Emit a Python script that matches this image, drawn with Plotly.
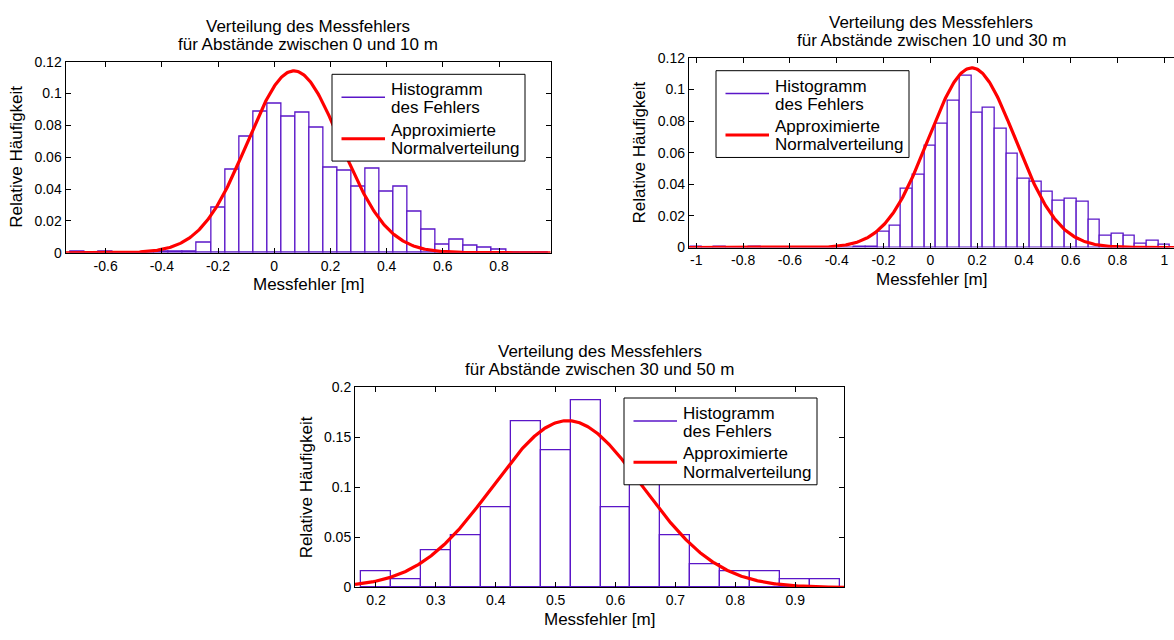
import numpy as np
import plotly.graph_objects as go

# ---------------------------------------------------------------------------
# Histogram data: bin centres [m] and relative frequencies per distance range
# ---------------------------------------------------------------------------
centers_0_10 = [-0.7, -0.65, -0.6, -0.55, -0.5, -0.45, -0.4, -0.35, -0.3, -0.25,
                -0.2, -0.15, -0.1, -0.05, 0.0, 0.05, 0.1, 0.15, 0.2, 0.25,
                0.3, 0.35, 0.4, 0.45, 0.5, 0.55, 0.6, 0.65, 0.7, 0.75,
                0.8, 0.85, 0.9, 0.95]
freq_0_10 = [0.0006, 0.0, 0.0006, 0.0, 0.0, 0.0, 0.0004, 0.0006, 0.0006, 0.0065,
             0.0283, 0.0519, 0.0730, 0.0883, 0.0939, 0.0852, 0.0882, 0.0786, 0.0535, 0.0518,
             0.0415, 0.0527, 0.0381, 0.0414, 0.0259, 0.0148, 0.0050, 0.0082, 0.0043, 0.0033,
             0.0018, 0.0, 0.0, 0.0]

centers_10_30 = [-1.0, -0.95, -0.9, -0.85, -0.8, -0.75, -0.7, -0.65, -0.6, -0.55,
                 -0.5, -0.45, -0.4, -0.35, -0.3, -0.25, -0.2, -0.15, -0.1, -0.05,
                 0.0, 0.05, 0.1, 0.15, 0.2, 0.25, 0.3, 0.35, 0.4, 0.45,
                 0.5, 0.55, 0.6, 0.65, 0.7, 0.75, 0.8, 0.85, 0.9, 0.95, 1.0]
freq_10_30 = [0.0008, 0.0, 0.0006, 0.0, 0.0, 0.0006, 0.0, 0.0, 0.0, 0.0,
              0.0, 0.0, 0.0, 0.0, 0.0004, 0.0006, 0.0098, 0.0135, 0.0370, 0.0458,
              0.0643, 0.0783, 0.0927, 0.1086, 0.0853, 0.0883, 0.0753, 0.0595, 0.0437, 0.0415,
              0.0350, 0.0293, 0.0307, 0.0287, 0.0177, 0.0077, 0.0086, 0.0077, 0.0022, 0.0043,
              0.0016]

centers_30_50 = [0.2, 0.25, 0.3, 0.35, 0.4, 0.45, 0.5, 0.55,
                 0.6, 0.65, 0.7, 0.75, 0.8, 0.85, 0.9, 0.95]
freq_30_50 = [0.0157, 0.0083, 0.0372, 0.0517, 0.0799, 0.1663, 0.1374, 0.1875,
              0.0799, 0.1170, 0.0517, 0.0231, 0.0157, 0.0157, 0.0083, 0.0083]

BIN_WIDTH = 0.05

# Fitted normal approximation (mean, standard deviation, peak height)
normal_0_10 = dict(mu=0.070, sigma=0.166, peak=0.1142)
normal_10_30 = dict(mu=0.177, sigma=0.185, peak=0.1136)
normal_30_50 = dict(mu=0.520, sigma=0.125, peak=0.1666)

# Axis ranges and tick labels
xrange_0_10 = [-0.743, 0.984]
xrange_10_30 = [-1.032, 1.041]
xrange_30_50 = [0.165, 0.982]

xticks_0_10 = [-0.6, -0.4, -0.2, 0.0, 0.2, 0.4, 0.6, 0.8]
xlabels_0_10 = ["-0.6", "-0.4", "-0.2", "0", "0.2", "0.4", "0.6", "0.8"]
xticks_10_30 = [-1.0, -0.8, -0.6, -0.4, -0.2, 0.0, 0.2, 0.4, 0.6, 0.8, 1.0]
xlabels_10_30 = ["-1", "-0.8", "-0.6", "-0.4", "-0.2", "0", "0.2", "0.4", "0.6", "0.8", "1"]
xticks_30_50 = [0.2, 0.3, 0.4, 0.5, 0.6, 0.7, 0.8, 0.9]
xlabels_30_50 = ["0.2", "0.3", "0.4", "0.5", "0.6", "0.7", "0.8", "0.9"]

yticks_small = [0.0, 0.02, 0.04, 0.06, 0.08, 0.10, 0.12]
ylabels_small = ["0", "0.02", "0.04", "0.06", "0.08", "0.1", "0.12"]
yticks_large = [0.0, 0.05, 0.10, 0.15, 0.20]
ylabels_large = ["0", "0.05", "0.1", "0.15", "0.2"]

titles = [
    ("Verteilung des Messfehlers", "für Abstände zwischen 0 und 10 m"),
    ("Verteilung des Messfehlers", "für Abstände zwischen 10 und 30 m"),
    ("Verteilung des Messfehlers", "für Abstände zwischen 30 und 50 m"),
]
XLABEL = "Messfehler [m]"
YLABEL = "Relative Häufigkeit"
LEGEND_HIST = ("Histogramm", "des Fehlers")
LEGEND_NORM = ("Approximierte", "Normalverteilung")

# ---------------------------------------------------------------------------
# Styling / layout helpers
# ---------------------------------------------------------------------------
W, H = 1174, 640
FONT = "Liberation Sans, Arial, Helvetica, sans-serif"
PURPLE = "rgb(90, 22, 200)"
RED = "rgb(255, 0, 0)"


def px(x):
    return x / W


def py(y):
    return 1 - y / H


# plot areas in pixels: (left, top, right, bottom)
boxes = [
    (65.5, 55.0, 550.7, 251.0),
    (688.8, 51.0, 1174.0, 245.7),
    (355.0, 389.0, 844.3, 594.3),
]

panels = [
    (centers_0_10, freq_0_10, normal_0_10, xrange_0_10, xticks_0_10, xlabels_0_10,
     [0, 0.12], yticks_small, ylabels_small),
    (centers_10_30, freq_10_30, normal_10_30, xrange_10_30, xticks_10_30, xlabels_10_30,
     [0, 0.12], yticks_small, ylabels_small),
    (centers_30_50, freq_30_50, normal_30_50, xrange_30_50, xticks_30_50, xlabels_30_50,
     [0, 0.2], yticks_large, ylabels_large),
]

fig = go.Figure()
layout_axes = {}
shapes = []
annotations = []


def text(x, y, s, size=17, xanchor="center", angle=0):
    annotations.append(dict(
        x=px(x), y=py(y), xref="paper", yref="paper", text=s, showarrow=False,
        xanchor=xanchor, yanchor="middle", textangle=angle, borderpad=0,
        font=dict(family=FONT, size=size, color="black")))


for i, (cx, fy, nd, xr, xt, xl, yr, yt, yl) in enumerate(panels):
    n = "" if i == 0 else str(i + 1)
    xa, ya = "x" + n, "y" + n
    left, top, right, bottom = boxes[i]

    fig.add_trace(go.Bar(
        x=cx, y=fy, width=BIN_WIDTH, xaxis=xa, yaxis=ya, showlegend=False,
        marker=dict(color="white", line=dict(color=PURPLE, width=1.3)),
        hoverinfo="x+y"))

    xs = np.linspace(xr[0], xr[1], 500)
    ys = nd["peak"] * np.exp(-0.5 * ((xs - nd["mu"]) / nd["sigma"]) ** 2)
    fig.add_trace(go.Scatter(
        x=xs, y=ys, mode="lines", xaxis=xa, yaxis=ya, showlegend=False,
        line=dict(color=RED, width=3.2)))

    common = dict(showline=True, linecolor="black", linewidth=1, ticks="inside",
                  ticklen=5, tickwidth=1, tickcolor="black", showgrid=False,
                  zeroline=False, tickfont=dict(family=FONT, size=14, color="black"))
    layout_axes["xaxis" + n] = dict(
        common, domain=[px(left), px(right)], range=xr, anchor=ya,
        tickmode="array", tickvals=xt, ticktext=xl, mirror="ticks")
    layout_axes["yaxis" + n] = dict(
        common, domain=[py(bottom), py(top)], range=yr, anchor=xa,
        tickmode="array", tickvals=yt, ticktext=yl,
        mirror=("ticks" if i != 1 else False))

    # titles and axis labels
    cxp = (left + right) / 2
    text(cxp, top - 36.5, titles[i][0])
    text(cxp, top - 18.0, titles[i][1])
    text(cxp, bottom + 32.5, XLABEL)
    text(left - 49.0, (top + bottom) / 2, YLABEL, angle=-90)

# legend boxes: (left, top) in pixels
legend_pos = [(332.0, 68.0), (716.0, 64.3), (624.0, 400.0)]
for (lx, ly) in legend_pos:
    shapes.append(dict(type="rect", xref="paper", yref="paper",
                       x0=px(lx), x1=px(lx + 193), y0=py(ly), y1=py(ly + 89),
                       line=dict(color="black", width=1), fillcolor="white",
                       layer="above"))
    shapes.append(dict(type="line", xref="paper", yref="paper",
                       x0=px(lx + 9.5), x1=px(lx + 53), y0=py(ly + 23.5), y1=py(ly + 23.5),
                       line=dict(color=PURPLE, width=1.5), layer="above"))
    shapes.append(dict(type="line", xref="paper", yref="paper",
                       x0=px(lx + 9.5), x1=px(lx + 53), y0=py(ly + 66), y1=py(ly + 66),
                       line=dict(color=RED, width=3), layer="above"))
    text(lx + 58, ly + 15.7, LEGEND_HIST[0], xanchor="left")
    text(lx + 58, ly + 34.3, LEGEND_HIST[1], xanchor="left")
    text(lx + 58, ly + 57.3, LEGEND_NORM[0], xanchor="left")
    text(lx + 58, ly + 76.0, LEGEND_NORM[1], xanchor="left")

fig.update_layout(
    width=W, height=H, autosize=False,
    margin=dict(l=0, r=0, t=0, b=0, pad=0),
    paper_bgcolor="white", plot_bgcolor="white",
    bargap=0, barmode="overlay",
    font=dict(family=FONT, size=14, color="black"),
    shapes=shapes, annotations=annotations,
    **layout_axes,
)

fig.write_html("out.html")
